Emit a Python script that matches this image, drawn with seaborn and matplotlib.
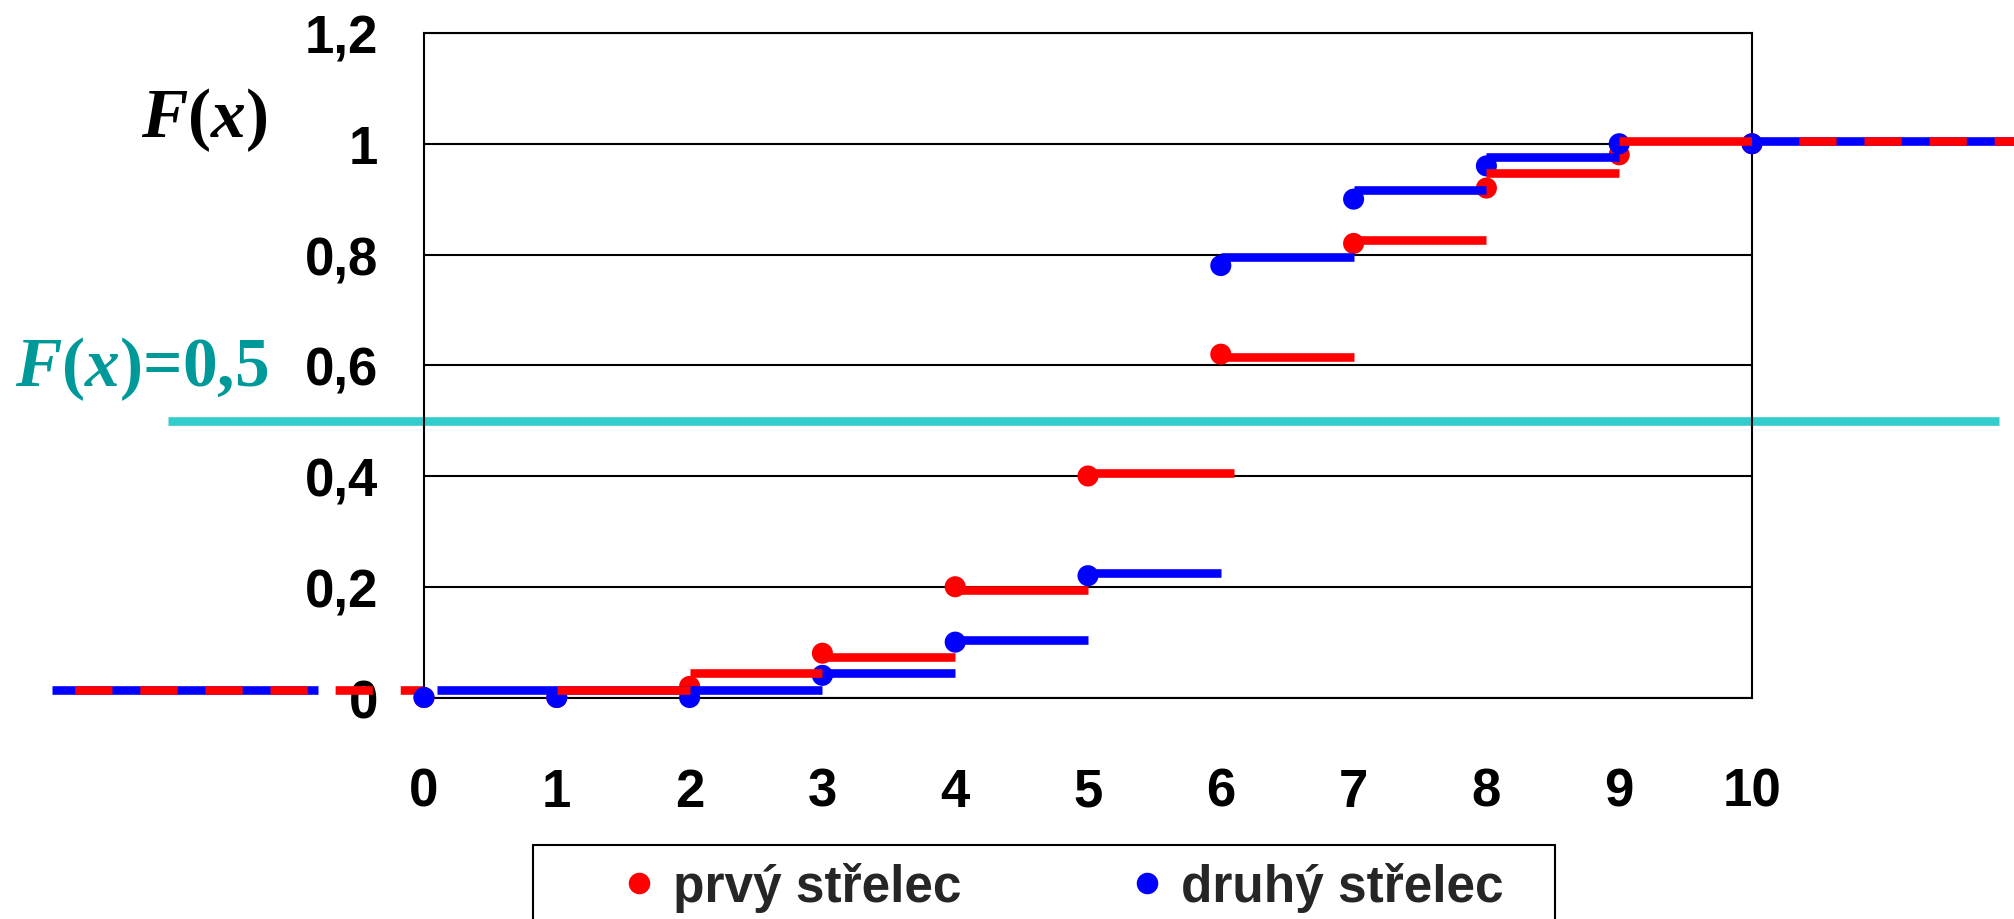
import matplotlib
matplotlib.use("Agg")
import pandas as pd
import matplotlib.pyplot as plt
from matplotlib.lines import Line2D
from matplotlib.patches import Rectangle
import seaborn as sns

# --- Données : distribuční funkce dvou střelců ---
x_vals = [0, 1, 2, 3, 4, 5, 6, 7, 8, 9, 10]
F_prvy = [0, 0, 0.02, 0.08, 0.2, 0.4, 0.62, 0.82, 0.92, 0.98, 1.0]
F_druhy = [0, 0, 0, 0.04, 0.1, 0.22, 0.78, 0.9, 0.96, 1.0, 1.0]

# schody tak, jak jsou nakreslené (začátek, konec, úroveň)
prvy_start = [1, 2, 3, 4, 5, 6, 7, 8, 9]
prvy_end = [2, 3, 4, 5, 6.1, 7, 8, 9, 10.15]
prvy_level = [0.013, 0.044, 0.073, 0.194, 0.405, 0.615, 0.826, 0.948, 1.005]
druhy_start = [0.1, 3, 4, 5, 6, 7, 8]
druhy_end = [3, 4, 5, 6, 7, 8, 9]
druhy_level = [0.013, 0.044, 0.104, 0.225, 0.795, 0.916, 0.976]

# pokračování mimo rámeček grafu
tail_left_red = [-2.8, 0]
tail_left_blue = [-2.8, -0.8]
tail_right_red = [10.15, 12.5]
tail_right_blue = [10, 12.5]
level_low = 0.013
level_high = 1.005

half_level = 0.5
half_span = [-1.93, 11.86]

y_ticks = [0, 0.2, 0.4, 0.6, 0.8, 1, 1.2]
y_labels = ["0", "0,2", "0,4", "0,6", "0,8", "1", "1,2"]
x_ticks = [0, 1, 2, 3, 4, 5, 6, 7, 8, 9, 10]

labels = ["prvý střelec", "druhý střelec"]
colors = {"prvý střelec": "#FF0000", "druhý střelec": "#0000FF"}
RED, BLUE = colors[labels[0]], colors[labels[1]]

df = pd.DataFrame({
    "x": x_vals + x_vals,
    "F": F_prvy + F_druhy,
    "strelec": [labels[0]] * len(x_vals) + [labels[1]] * len(x_vals),
})

# --- Style ---
sns.set_style("white")
plt.rcParams["font.family"] = ["Liberation Sans", "DejaVu Sans"]
plt.rcParams["mathtext.fontset"] = "custom"
plt.rcParams["mathtext.it"] = "Liberation Serif:italic:bold"
plt.rcParams["mathtext.rm"] = "Liberation Serif:bold"

fig = plt.figure(figsize=(20.15, 9.2), dpi=100)
ax = fig.add_axes([0.21042, 0.24076, 0.65906, 0.72228])

LW = 6.2

# body
sns.scatterplot(data=df, x="x", y="F", hue="strelec", palette=colors, s=230,
                linewidth=0, legend=False, ax=ax, zorder=3, clip_on=False)

# schody
ax.hlines(druhy_level, druhy_start, druhy_end, colors=BLUE, lw=LW,
          capstyle="butt", zorder=4)
ax.hlines(prvy_level, prvy_start, prvy_end, colors=RED, lw=LW,
          capstyle="butt", zorder=4.5)

# přerušované konce
ax.plot(tail_left_blue, [level_low] * 2, color=BLUE, lw=LW,
        solid_capstyle="butt", clip_on=False, zorder=1.2)
ax.plot(tail_left_red, [level_low] * 2, color=RED, lw=LW,
        linestyle=(4.92, (4.32, 3.24)), dash_capstyle="butt",
        clip_on=False, zorder=1.3)
ax.plot(tail_right_blue, [level_high] * 2, color=BLUE, lw=LW,
        solid_capstyle="butt", clip_on=False, zorder=4.2)
ax.plot(tail_right_red, [level_high] * 2, color=RED, lw=LW,
        linestyle=(4.44, (4.32, 3.24)), dash_capstyle="butt",
        clip_on=False, zorder=4.6)

# F(x) = 0,5
ax.plot(half_span, [half_level] * 2, color="#33CCCC", lw=LW,
        solid_capstyle="butt", clip_on=False, zorder=2)

# osy
ax.set_xlim(0, 10)
ax.set_ylim(0, 1.2)
ax.set_xticks(x_ticks)
ax.set_xticklabels([str(v) for v in x_ticks], fontsize=38, fontweight="bold")
ax.set_yticks(y_ticks)
ax.set_yticklabels(y_labels, fontsize=38, fontweight="bold")
ax.set_xlabel("")
ax.set_ylabel("")
ax.yaxis.grid(True, color="black", lw=1.5)
ax.xaxis.grid(False)
for sp in ax.spines.values():
    sp.set_visible(True)
    sp.set_color("black")
    sp.set_linewidth(1.5)
ax.tick_params(axis="both", direction="out", length=13, width=1.5,
               color="black", labelcolor="black")
ax.tick_params(axis="y", pad=20)
ax.tick_params(axis="x", pad=37)

# popisky
fig.text(141 / 2015, 1 - 137 / 920, r"$F(x)$", fontsize=50,
         family="Liberation Serif", weight="bold", color="black",
         ha="left", va="baseline")
fig.text(15 / 2015, 1 - 386 / 920, r"$F(x)$=0,5", fontsize=50,
         family="Liberation Serif", weight="bold", color="#009999",
         ha="left", va="baseline")

# legenda
handles = [Line2D([], [], marker="o", ls="", color=colors[l], markersize=15.5,
                  markeredgewidth=0) for l in labels]
fig.legend(handles, labels, loc="center left",
           bbox_to_anchor=(626 / 2015, 1 - 888 / 920), ncol=2, frameon=False,
           borderpad=0, borderaxespad=0, handlelength=0.5, handletextpad=0.41,
           columnspacing=3.37, prop={"weight": "bold", "size": 37})
fig.add_artist(Rectangle((533 / 2015, -0.05), (1555 - 533) / 2015,
                         (920 - 846) / 920 + 0.05, transform=fig.transFigure,
                         fill=False, edgecolor="black", lw=1.5))

fig.savefig("out.png", dpi=100)
plt.close()
